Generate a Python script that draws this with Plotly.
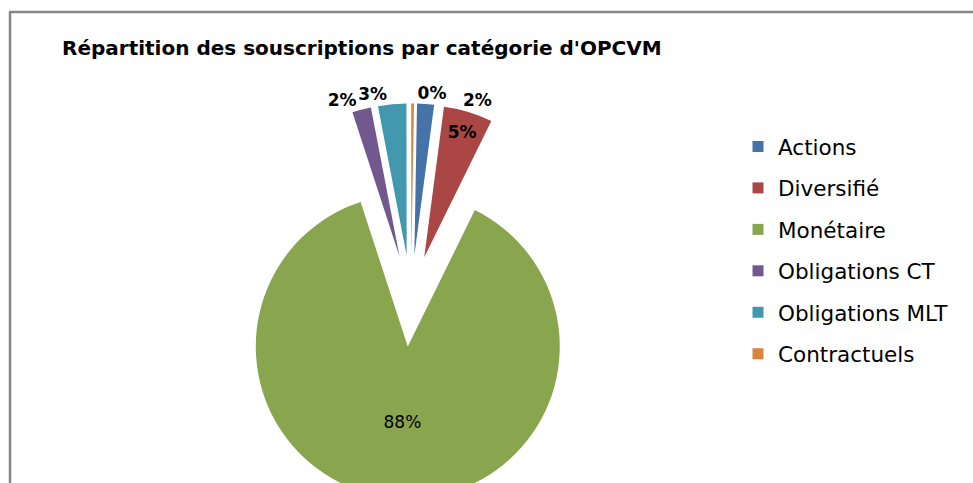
import plotly.graph_objects as go

# ---- data ----
categories = ["Actions", "Diversifié", "Monétaire", "Obligations CT", "Obligations MLT", "Contractuels"]
shares = [1.8, 5.2, 87.7, 2.0, 3.0, 0.3]
colors = ["#4572A7", "#AA4643", "#89A54E", "#71588F", "#4198AF", "#DB843D"]
title_text = "Répartition des souscriptions par catégorie d'OPCVM"

# which label is drawn by which pie layer (same slices, layers 2-3 are transparent label carriers)
label_main = ["none", "inside", "inside", "outside", "none", "none"]
label_top = ["none", "none", "none", "none", "outside", "outside"]
label_act = ["outside", "none", "none", "none", "none", "none"]
label_bold = [True, True, False, True, True, True]

# ---- layout geometry ----
W, H = 973, 510
cx, cy, r, pull = 411, 301, 152, 0.30
half = r * (1 + pull)
dom = dict(x=[(cx - half) / W, (cx + half) / W], y=[1 - (cy + half) / H, 1 - (cy - half) / H])
rot = 1.0
rot_act = 10.5

templates = ["<b>%{percent:.0%}</b>" if b else "%{percent:.0%}" for b in label_bold]
clear = ["rgba(0,0,0,0)"] * len(categories)
tfont = dict(family="DejaVu Sans", size=17, color="black")


def pie_layer(pos, cols, rotation, hover=True):
    return go.Pie(
        labels=categories, values=shares, sort=False, direction="clockwise", rotation=rotation,
        pull=[pull] * len(categories),
        marker=dict(colors=cols, line=dict(width=0)),
        textposition=pos, texttemplate=templates, textfont=tfont,
        insidetextorientation="horizontal", showlegend=False, domain=dom,
        hoverinfo="label+percent" if hover else "skip",
    )


fig = go.Figure()
fig.add_trace(pie_layer(label_main, colors, rot))
fig.add_trace(pie_layer(label_top, clear, rot, hover=False))
fig.add_trace(pie_layer(label_act, clear, rot_act, hover=False))

for i, (c, col) in enumerate(zip(categories, colors)):
    fig.add_trace(go.Scatter(
        x=[None], y=[None], mode="markers", name=c, legendgroup=f"g{i}",
        marker=dict(symbol="square", size=11, color=col), showlegend=True,
    ))

grey = "#878787"
fig.update_layout(
    width=W, height=H, margin=dict(l=0, r=0, t=0, b=0, autoexpand=False),
    paper_bgcolor="white", plot_bgcolor="white",
    xaxis=dict(visible=False), yaxis=dict(visible=False),
    title=dict(text=f"<b>{title_text}</b>", x=62 / W, xanchor="left", xref="paper",
               y=1 - 48 / H, yanchor="middle", yref="paper",
               font=dict(family="DejaVu Sans", size=20, color="black")),
    legend=dict(x=738 / W, xanchor="left", y=1 - 126 / H, yanchor="top",
                font=dict(family="DejaVu Sans", size=21.5, color="black"),
                tracegroupgap=10.5, bgcolor="rgba(0,0,0,0)"),
    shapes=[
        dict(type="line", xref="paper", yref="paper", x0=9 / W, x1=1, y0=1 - 12 / H, y1=1 - 12 / H,
             line=dict(color=grey, width=2.5)),
        dict(type="line", xref="paper", yref="paper", x0=10 / W, x1=10 / W, y0=0, y1=1 - 12 / H,
             line=dict(color=grey, width=2.5)),
    ],
)

fig.write_html("out.html", config={"displayModeBar": False}, post_script=(
    "document.body.style.margin='0';document.body.style.overflow='hidden';"
    "document.documentElement.style.overflow='hidden';"))
